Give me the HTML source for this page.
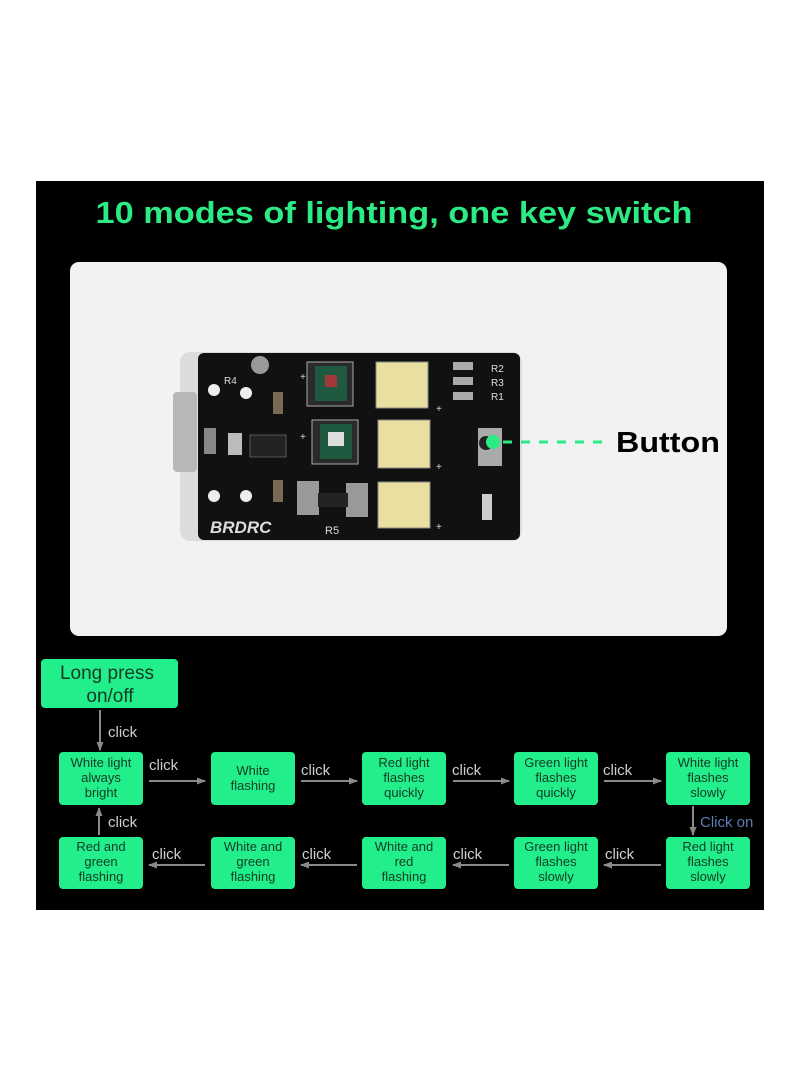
<!DOCTYPE html>
<html><head><meta charset="utf-8">
<style>
html,body{margin:0;padding:0;background:#fff;}
svg{display:block;}
text{font-family:"Liberation Sans",sans-serif;}
</style></head>
<body>
<svg width="800" height="1091" viewBox="0 0 800 1091" xmlns="http://www.w3.org/2000/svg">
<defs>
<marker id="ah" markerWidth="9" markerHeight="9" refX="8" refY="4.5" orient="auto" markerUnits="userSpaceOnUse">
<path d="M0,1 L9,4.5 L0,8 z" fill="#8a8a8a"/></marker>
</defs>
<rect x="0" y="0" width="800" height="1091" fill="#fff"/>
<rect x="36" y="181" width="728" height="729" fill="#000"/>
<text x="394" y="223" font-size="31" font-weight="bold" fill="#2ceb84" text-anchor="middle" textLength="597" lengthAdjust="spacingAndGlyphs">10 modes of lighting, one key switch</text>
<rect x="70" y="262" width="657" height="374" rx="9" fill="#f2f2f2"/>

<!-- PCB -->
<rect x="180" y="352" width="342" height="189" rx="10" fill="#dcdcdc"/>
<rect x="173" y="392" width="24" height="80" rx="4" fill="#b8b8b8"/>
<rect x="198" y="353" width="322" height="187" rx="6" fill="#111"/>
<circle cx="260" cy="365" r="9" fill="#999"/>
<rect x="307" y="362" width="46" height="44" fill="#2a2a2a" stroke="#aaa"/>
<rect x="315" y="366" width="32" height="35" fill="#1f5a40"/>
<rect x="325" y="375" width="12" height="12" fill="#a03a3a"/>
<rect x="312" y="420" width="46" height="44" fill="#2a2a2a" stroke="#aaa"/>
<rect x="320" y="424" width="32" height="35" fill="#1f5a40"/>
<rect x="328" y="432" width="16" height="14" fill="#ddd"/>
<rect x="376" y="362" width="52" height="46" fill="#e8dfa0" stroke="#888"/>
<rect x="378" y="420" width="52" height="48" fill="#e8dfa0" stroke="#888"/>
<rect x="378" y="482" width="52" height="46" fill="#e8dfa0" stroke="#888"/>
<rect x="297" y="481" width="22" height="34" fill="#999"/>
<rect x="346" y="483" width="22" height="34" fill="#999"/>
<rect x="318" y="493" width="30" height="14" fill="#222"/>
<rect x="250" y="435" width="36" height="22" fill="#222" stroke="#555"/>
<rect x="228" y="433" width="14" height="22" fill="#bbb"/>
<rect x="204" y="428" width="12" height="26" fill="#888"/>
<rect x="453" y="362" width="20" height="8" fill="#aaa"/>
<rect x="453" y="377" width="20" height="8" fill="#aaa"/>
<rect x="453" y="392" width="20" height="8" fill="#aaa"/>
<rect x="478" y="428" width="24" height="38" fill="#aaa"/>
<circle cx="486" cy="443" r="7" fill="#222"/>
<rect x="482" y="494" width="10" height="26" fill="#ccc"/>
<rect x="273" y="392" width="10" height="22" fill="#7a6a55"/>
<rect x="273" y="480" width="10" height="22" fill="#7a6a55"/>
<circle cx="214" cy="390" r="6" fill="#eee"/><circle cx="214" cy="496" r="6" fill="#eee"/>
<circle cx="246" cy="393" r="6" fill="#eee"/><circle cx="246" cy="496" r="6" fill="#eee"/>
<g fill="#ddd" font-size="10">
<text x="224" y="384">R4</text><text x="491" y="372">R2</text><text x="491" y="386">R3</text><text x="491" y="400">R1</text>
<text x="300" y="380">+</text><text x="300" y="440">+</text><text x="436" y="412">+</text><text x="436" y="470">+</text><text x="436" y="530">+</text>
</g>
<text x="210" y="533" font-size="17" font-weight="bold" font-style="italic" fill="#ddd">BRDRC</text>
<text x="325" y="534" font-size="11" fill="#ddd">R5</text>
<circle cx="493" cy="442" r="7" fill="#2ceb84"/>
<line x1="503" y1="442" x2="608" y2="442" stroke="#2ceb84" stroke-width="3" stroke-dasharray="9,9"/>
<text x="616" y="452" font-size="29" font-weight="bold" fill="#000" textLength="104" lengthAdjust="spacingAndGlyphs">Button</text>

<!-- flowchart -->
<g fill="#22ef8b">
<rect x="41" y="659" width="137" height="49" rx="4"/>
<rect x="59" y="752" width="84" height="53" rx="4"/>
<rect x="211" y="752" width="84" height="53" rx="4"/>
<rect x="362" y="752" width="84" height="53" rx="4"/>
<rect x="514" y="752" width="84" height="53" rx="4"/>
<rect x="666" y="752" width="84" height="53" rx="4"/>
<rect x="59" y="837" width="84" height="52" rx="4"/>
<rect x="211" y="837" width="84" height="52" rx="4"/>
<rect x="362" y="837" width="84" height="52" rx="4"/>
<rect x="514" y="837" width="84" height="52" rx="4"/>
<rect x="666" y="837" width="84" height="52" rx="4"/>
</g>
<g fill="#123a25" font-size="13" text-anchor="middle">
<text x="107" y="679" font-size="19">Long press</text>
<text x="110" y="702" font-size="19">on/off</text>
<text x="101" y="767">White light</text><text x="101" y="782">always</text><text x="101" y="797">bright</text>
<text x="253" y="775">White</text><text x="253" y="790">flashing</text>
<text x="404" y="767">Red light</text><text x="404" y="782">flashes</text><text x="404" y="797">quickly</text>
<text x="556" y="767">Green light</text><text x="556" y="782">flashes</text><text x="556" y="797">quickly</text>
<text x="708" y="767">White light</text><text x="708" y="782">flashes</text><text x="708" y="797">slowly</text>
<text x="101" y="851">Red and</text><text x="101" y="866">green</text><text x="101" y="881">flashing</text>
<text x="253" y="851">White and</text><text x="253" y="866">green</text><text x="253" y="881">flashing</text>
<text x="404" y="851">White and</text><text x="404" y="866">red</text><text x="404" y="881">flashing</text>
<text x="556" y="851">Green light</text><text x="556" y="866">flashes</text><text x="556" y="881">slowly</text>
<text x="708" y="851">Red light</text><text x="708" y="866">flashes</text><text x="708" y="881">slowly</text>
</g>
<g stroke="#8a8a8a" stroke-width="2" marker-end="url(#ah)">
<line x1="100" y1="710" x2="100" y2="750"/>
<line x1="149" y1="781" x2="205" y2="781"/>
<line x1="301" y1="781" x2="357" y2="781"/>
<line x1="453" y1="781" x2="509" y2="781"/>
<line x1="604" y1="781" x2="661" y2="781"/>
<line x1="693" y1="806" x2="693" y2="835"/>
<line x1="661" y1="865" x2="604" y2="865"/>
<line x1="509" y1="865" x2="453" y2="865"/>
<line x1="357" y1="865" x2="301" y2="865"/>
<line x1="205" y1="865" x2="149" y2="865"/>
<line x1="99" y1="835" x2="99" y2="808"/>
</g>
<g fill="#cfcfcf" font-size="15">
<text x="108" y="737">click</text>
<text x="149" y="770">click</text>
<text x="301" y="775">click</text>
<text x="452" y="775">click</text>
<text x="603" y="775">click</text>
<text x="605" y="859">click</text>
<text x="453" y="859">click</text>
<text x="302" y="859">click</text>
<text x="152" y="859">click</text>
<text x="108" y="827">click</text>
</g>
<text x="700" y="827" font-size="15" fill="#5b7db0">Click on</text>
</svg>
</body></html>
